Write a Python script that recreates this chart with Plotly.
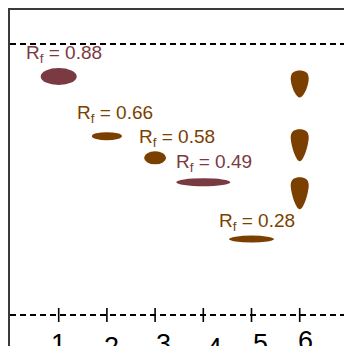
import plotly.graph_objects as go

# ---------------- data ----------------
lanes = [1, 2, 3, 4, 5, 6]
lane_labels = ["1", "2", "3", "4", "5", "6"]
spot_lanes = [1, 2, 3, 4, 5]
spot_rf = [0.88, 0.66, 0.58, 0.49, 0.28]
lane6_rf = [0.852, 0.626, 0.449]
origin_rf = 0.0
front_rf = 1.0

# ---------------- style ----------------
MAROON = "#7a3a42"
BROWN = "#7b3f00"
spot_colors = [MAROON, BROWN, BROWN, MAROON, BROWN]
spot_w = [36, 30, 22, 54, 45]          # px
spot_h = [17, 8, 13, 8, 7]             # px
label_dx = [5, 7.6, 22, 11, 5.6]       # px
label_dy = [22.8, 22, 20.3, 19.2, 17.4]  # px above spot
tick_dx = [-0.5, 5, 8, 11, 9, 6]
tick_dy = [-28.5, -31.5, -29, -32.5, -28.5, -26]
tear_h = [27, 32, 32]
FONT = "Liberation Sans, Arial, sans-serif"

fig = go.Figure()

# origin tick marks
fig.add_trace(go.Scatter(
    x=lanes, y=[origin_rf] * len(lanes), mode="markers",
    marker=dict(symbol="line-ns", size=10, line=dict(width=1.6, color="black")),
    hoverinfo="skip", showlegend=False))

shapes = []
# solvent front and origin dashed lines
for yv in (front_rf, origin_rf):
    shapes.append(dict(type="line", xref="paper", yref="y", x0=0, x1=1, y0=yv, y1=yv,
                       line=dict(color="black", width=2, dash="6px,4px"), layer="below"))

# elliptical spots
for ln, rf, w, h, c in zip(spot_lanes, spot_rf, spot_w, spot_h, spot_colors):
    shapes.append(dict(type="circle", xref="x", yref="y",
                       xsizemode="pixel", ysizemode="pixel",
                       xanchor=ln, yanchor=rf,
                       x0=-w / 2, x1=w / 2, y0=-h / 2, y1=h / 2,
                       fillcolor=c, line=dict(width=0)))

# teardrop spots in lane 6
def tear_path(h, hw=9):
    t = h / 2
    b = -h / 2
    return (f"M 0,{b} C 4,{b} {hw},{t-15} {hw},{t-8} "
            f"C {hw},{t-2} 5,{t} 0,{t} "
            f"C -5,{t} -{hw},{t-2} -{hw},{t-8} "
            f"C -{hw},{t-15} -4,{b} 0,{b} Z")

for rf, h in zip(lane6_rf, tear_h):
    shapes.append(dict(type="path", xref="x", yref="y",
                       xsizemode="pixel", ysizemode="pixel",
                       xanchor=lanes[5], yanchor=rf,
                       path=tear_path(h), fillcolor=BROWN, line=dict(width=0)))

annotations = []
for ln, rf, c, dx, dy in zip(spot_lanes, spot_rf, spot_colors, label_dx, label_dy):
    annotations.append(dict(x=ln, y=rf, xref="x", yref="y",
                            text=f"R<sub>f</sub> = {rf:.2f}", showarrow=False,
                            xanchor="center", yanchor="middle",
                            xshift=dx, yshift=dy,
                            font=dict(family=FONT, size=19, color=c)))
for ln, lab, dx, dy in zip(lanes, lane_labels, tick_dx, tick_dy):
    annotations.append(dict(x=ln, y=origin_rf, xref="x", yref="y",
                            text=lab, showarrow=False,
                            xanchor="center", yanchor="middle",
                            xshift=dx, yshift=dy,
                            font=dict(family=FONT, size=27, color="black")))

fig.update_layout(
    width=344, height=346,
    margin=dict(l=10, r=0, t=10, b=0),
    paper_bgcolor="white", plot_bgcolor="white",
    shapes=shapes, annotations=annotations,
    xaxis=dict(range=[-0.0104, 6.919], side="top", showline=True, linecolor="#3a3a3a",
               linewidth=2, showticklabels=False, ticks="", showgrid=False, zeroline=False),
    yaxis=dict(range=[-0.1144, 1.1255], showline=True, linecolor="#3a3a3a",
               linewidth=1.6, showticklabels=False, ticks="", showgrid=False, zeroline=False),
    showlegend=False,
)

# remove the page's default body margin so the figure fills the window exactly
fig.write_html("out.html",
               config={"displayModeBar": False},
               post_script="document.body.style.margin='0';"
                           "document.documentElement.style.overflow='hidden';")
